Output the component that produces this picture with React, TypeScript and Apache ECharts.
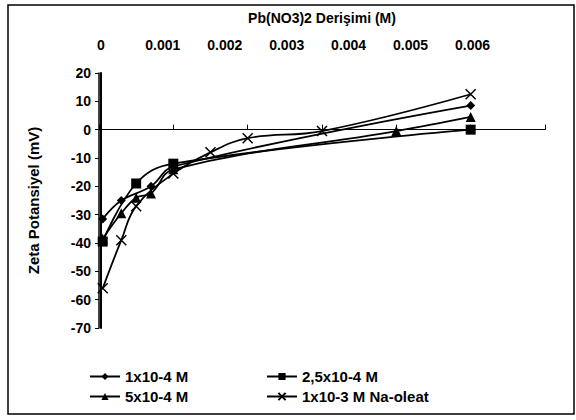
import React, { useEffect, useRef } from "react";
import * as echarts from "echarts";

const xTickLabels = [0, 0.001, 0.002, 0.003, 0.004, 0.005, 0.006];

const s1Name = "1x10-4 M";
const s1X = [0.00005, 0.0003, 0.0007, 0.001, 0.005];
const s1Y = [-31.5, -25, -20, -13, 8.5];

const s2Name = "2,5x10-4 M";
const s2X = [0.00005, 0.0005, 0.001, 0.005];
const s2Y = [-39.5, -19, -12, 0];

const s3Name = "5x10-4 M";
const s3X = [0.00005, 0.0003, 0.0005, 0.0007, 0.001, 0.004, 0.005];
const s3Y = [-38.5, -29.5, -24, -22.5, -14, -0.5, 4.5];

const s4Name = "1x10-3 M Na-oleat";
const s4X = [0.00005, 0.0003, 0.0005, 0.001, 0.0015, 0.002, 0.003, 0.005];
const s4Y = [-56, -39, -27, -15.5, -8, -3, -0.5, 12.5];

const zip = (xs: number[], ys: number[]) => xs.map((x, i) => [x, ys[i]]);

const FONT = "Liberation Sans";

export default function App() {
  const ref = useRef<HTMLDivElement>(null);
  useEffect(() => {
    if (!ref.current) return;
    const chart = echarts.init(ref.current, null, { renderer: "svg" });
    const lineStyle = { color: "#000", width: 1.8 };
    const mk = (name: string, data: number[][], symbol: string, size: number, extra: any = {}) => ({
      name,
      type: "line",
      data,
      xAxisIndex: 0,
      yAxisIndex: 0,
      smooth: 0.4,
      symbol,
      symbolSize: size,
      lineStyle,
      itemStyle: { color: "#000", ...extra },
      z: 5,
    });
    const legendText = { fontFamily: FONT, fontSize: 15, fontWeight: "bold", color: "#000" };
    const leg = (name: string, left: number, top: number) => ({
      data: [name],
      left,
      top,
      itemWidth: 30,
      itemHeight: 9,
      itemGap: 0,
      textStyle: legendText,
    });
    chart.setOption({
      animation: false,
      backgroundColor: "#fff",
      textStyle: { fontFamily: FONT },
      grid: { left: 99, right: 31, top: 73, bottom: 92, containLabel: false },
      xAxis: [
        {
          type: "value",
          min: 0,
          max: 0.006,
          interval: 0.001,
          position: "bottom",
          axisLine: { onZero: true, lineStyle: { color: "#000", width: 1.2 } },
          axisTick: { show: true, inside: true, length: 5, lineStyle: { color: "#000" } },
          axisLabel: { show: false },
          splitLine: { show: false },
        },
        {
          type: "value",
          min: -0.00003,
          max: 0.00717,
          position: "top",
          name: "Pb(NO3)2 Derişimi (M)",
          nameLocation: "middle",
          nameGap: 48,
          nameTextStyle: { fontFamily: FONT, fontSize: 14, fontWeight: "bold", color: "#000" },
          axisLine: { show: false },
          axisTick: { show: false },
          splitLine: { show: false },
          axisLabel: {
            customValues: xTickLabels,
            margin: 21,
            fontFamily: FONT,
            fontSize: 14,
            fontWeight: "bold",
            color: "#000",
            formatter: (v: number) => (v === 0 ? "0" : v.toFixed(3)),
          },
        },
      ],
      yAxis: [
        {
          type: "value",
          min: -70,
          max: 20,
          interval: 10,
          name: "Zeta Potansiyel (mV)",
          nameLocation: "middle",
          nameGap: 58,
          nameTextStyle: { fontFamily: FONT, fontSize: 15, fontWeight: "bold", color: "#000" },
          axisLine: { show: true, lineStyle: { color: "#000", width: 1.5 } },
          axisTick: { show: true, length: 4, lineStyle: { color: "#000" } },
          axisLabel: { margin: 8, fontFamily: FONT, fontSize: 14, fontWeight: "bold", color: "#000" },
          splitLine: { show: false },
        },
        {
          type: "value",
          min: -70,
          max: 20,
          position: "right",
          axisLine: { show: true, lineStyle: { color: "#000", width: 2 } },
          axisTick: { show: false },
          axisLabel: { show: false },
          splitLine: { show: false },
        },
      ],
      legend: [
        leg(s1Name, 84, 364),
        leg(s2Name, 261, 364),
        leg(s3Name, 84, 384),
        leg(s4Name, 261, 384),
      ],
      graphic: [
        {
          type: "rect",
          shape: { x: 8, y: 5, width: 566, height: 409 },
          style: { fill: "none", stroke: "#000", lineWidth: 1.5 },
          silent: true,
        },
      ],
      series: [
        mk(s1Name, zip(s1X, s1Y), "diamond", 9),
        mk(s2Name, zip(s2X, s2Y), "rect", 10),
        mk(s3Name, zip(s3X, s3Y), "triangle", 10),
        mk(s4Name, zip(s4X, s4Y), "path://M0,0L10,10M10,0L0,10", 10, {
          color: "#000",
          borderColor: "#000",
          borderWidth: 1.5,
        }),
      ],
    });
    return () => chart.dispose();
  }, []);
  return (
    <div
      ref={ref}
      style={{ position: "fixed", left: 0, top: 0, width: 576, height: 420 }}
    />
  );
}
